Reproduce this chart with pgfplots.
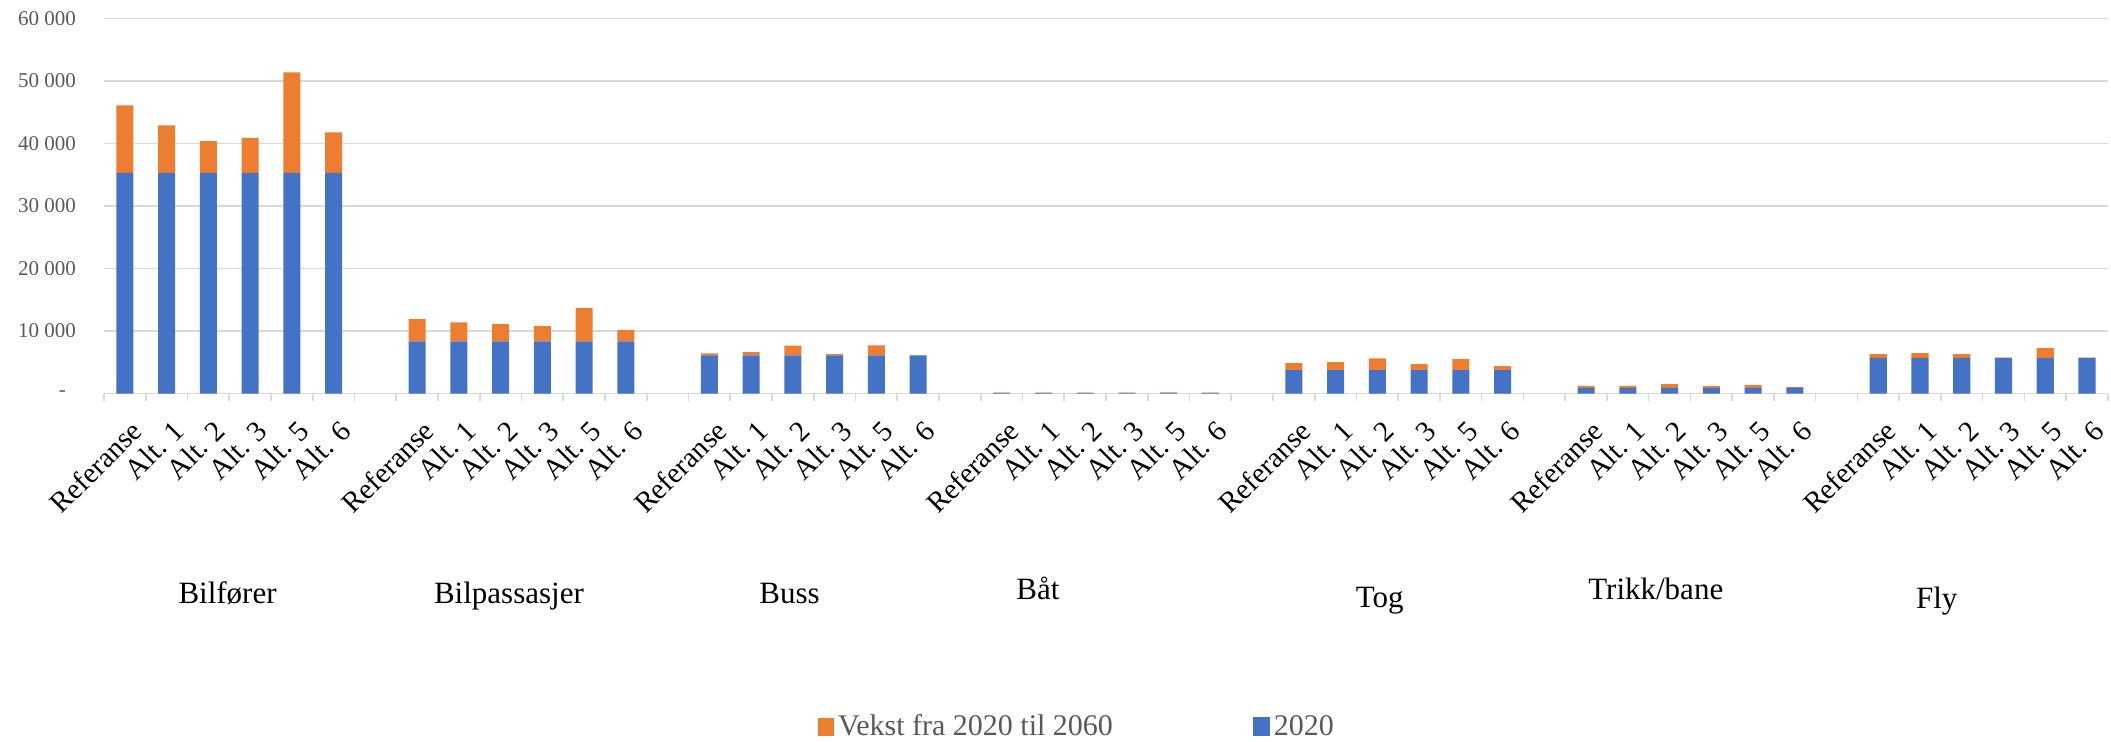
\documentclass[border=0pt]{standalone}
\usepackage{fontspec}
\setmainfont{Liberation Serif}
\usepackage{pgfplots}
\usepackage{pgfplotstable}
\pgfplotsset{compat=1.18}

\definecolor{barblue}{HTML}{4472C4}
\definecolor{barorange}{HTML}{ED7D31}
\definecolor{gridgray}{HTML}{D9D9D9}
\definecolor{labelgray}{HTML}{595959}

% Trips per mode and scenario: 2020 level and growth 2020-2060.
% Slots 6, 13, 20, ... are left empty to separate the modes.
\pgfplotstableread{
x  base   growth
0  35300  10800
1  35300  7600
2  35300  5100
3  35300  5600
4  35300  16100
5  35300  6500
7  8350   3550
8  8350   3050
9  8350   2750
10 8350   2450
11 8350   5300
12 8350   1850
14 6100   320
15 6100   530
16 6100   1550
17 6100   200
18 6100   1600
19 6100   20
21 120    20
22 120    20
23 120    20
24 120    20
25 120    80
26 120    10
28 3750   1120
29 3750   1280
30 3750   1870
31 3750   960
32 3750   1760
33 3750   640
35 900    330
36 900    330
37 900    600
38 900    280
39 900    440
40 900    120
42 5720   590
43 5720   750
44 5720   590
45 5720   40
46 5720   1550
47 5720   40
}\tripdata

\tikzset{modename/.style={anchor=base, font=\fontsize{15.5}{18}\selectfont}}

\begin{document}
\begin{tikzpicture}
\useasboundingbox (-52pt,-173.75pt) rectangle (1003.5pt,196.75pt);
\begin{axis}[
  scale only axis, width=1002pt, height=187.5pt,
  ybar stacked, bar width=0.41,
  xmin=-0.5, xmax=47.5, ymin=0, ymax=60000,
  enlarge x limits=false, enlarge y limits=false,
  axis x line*=bottom, axis y line*=left,
  y axis line style={draw=none},
  x axis line style={draw=gridgray, line width=0.8pt},
  ymajorgrids, major grid style={draw=gridgray, line width=0.8pt},
  scaled y ticks=false,
  ytick={0,10000,20000,30000,40000,50000,60000},
  yticklabels={{-\hspace*{5pt}},10 000,20 000,30 000,40 000,50 000,60 000},
  yticklabel style={font=\fontsize{10.5}{12}\selectfont, text=labelgray, xshift=-10.5pt},
  xtick={0,1,2,3,4,5,7,8,9,10,11,12,14,15,16,17,18,19,21,22,23,24,25,26,28,29,30,31,32,33,35,36,37,38,39,40,42,43,44,45,46,47},
  xticklabels={Referanse,Alt. 1,Alt. 2,Alt. 3,Alt. 5,Alt. 6,
               Referanse,Alt. 1,Alt. 2,Alt. 3,Alt. 5,Alt. 6,
               Referanse,Alt. 1,Alt. 2,Alt. 3,Alt. 5,Alt. 6,
               Referanse,Alt. 1,Alt. 2,Alt. 3,Alt. 5,Alt. 6,
               Referanse,Alt. 1,Alt. 2,Alt. 3,Alt. 5,Alt. 6,
               Referanse,Alt. 1,Alt. 2,Alt. 3,Alt. 5,Alt. 6,
               Referanse,Alt. 1,Alt. 2,Alt. 3,Alt. 5,Alt. 6},
  xticklabel style={font=\fontsize{14.5}{17}\selectfont, inner sep=0pt,
                    xshift=6pt, yshift=-16pt, rotate=45, anchor=east},
  major tick length=0pt,
  minor xtick={-0.5,0.5,...,47.5},
  minor tick length=3.5pt, tick align=outside,
  minor tick style={draw=gridgray, line width=0.8pt},
  clip=false,
  legend columns=2,
  legend style={at={(0.486,-0.889)}, anchor=center, draw=none, fill=none,
                font=\fontsize{15}{17}\selectfont, text=labelgray,
                /tikz/every even column/.append style={column sep=68pt}},
  legend image code/.code={\fill[#1] (0pt,-4.5pt) rectangle (8pt,4.5pt);},
]
\addplot[fill=barblue, draw=none, forget plot] table[x=x, y=base] {\tripdata};
\addplot[fill=barorange, draw=none] table[x=x, y=growth] {\tripdata};
\addlegendentry{Vekst fra 2020 til 2060}
\addlegendimage{legend image code/.code={\fill[barblue] (0pt,-4.5pt) rectangle (8pt,4.5pt);}}
\addlegendentry{2020}

% mode names under each group
\node[modename] at (axis cs:2.46,-33520) {Bilfører};
\node[modename] at (axis cs:9.20,-33520) {Bilpassasjer};
\node[modename] at (axis cs:15.92,-33520) {Buss};
\node[modename] at (axis cs:21.87,-32880) {Båt};
\node[modename] at (axis cs:30.06,-34160) {Tog};
\node[modename] at (axis cs:36.67,-33000) {Trikk/bane};
\node[modename] at (axis cs:43.40,-34400) {Fly};
\end{axis}
\end{tikzpicture}
\end{document}
